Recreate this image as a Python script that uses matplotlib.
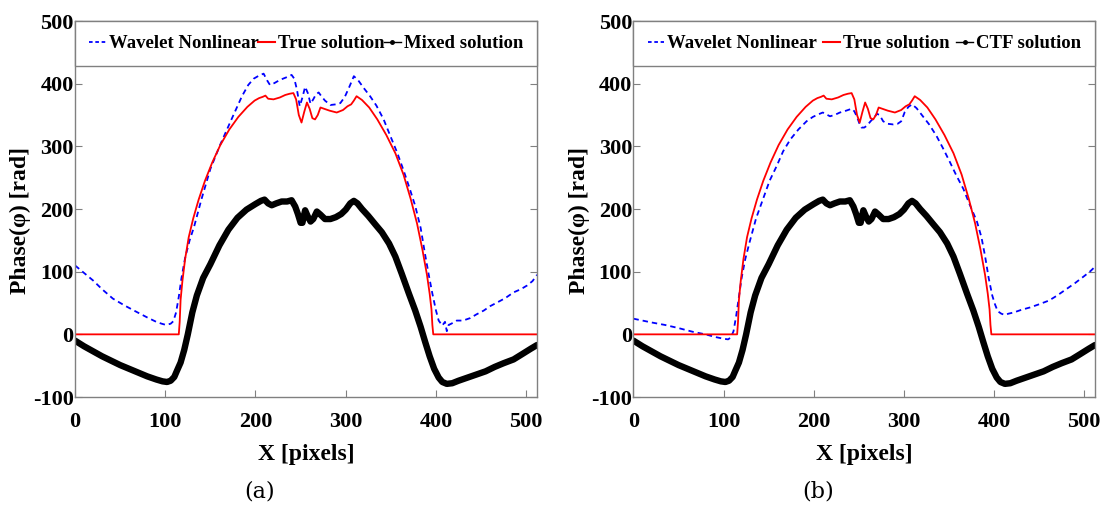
import matplotlib
matplotlib.use("Agg")
import matplotlib.pyplot as plt
from matplotlib.lines import Line2D

# ---------------- data ----------------
true_x = [0, 115, 116, 117, 119, 122, 126, 131, 137, 144, 152, 161, 171, 181, 191, 199,
          204, 208, 211, 214, 220, 227, 233, 238, 242, 245, 248, 251, 254, 257, 260, 263,
          266, 269, 272, 276, 282, 290, 297, 302, 306, 309, 312, 318, 326, 335, 345, 355,
          364, 372, 379, 385, 390, 393, 395, 396, 397, 512]
true_y = [0, 0, 20, 55, 85, 120, 155, 185, 215, 245, 274, 302, 327, 347, 363, 373,
          377, 379, 381, 376, 375, 378, 382, 384, 385, 375, 350, 338, 355, 370, 360, 345,
          343, 350, 362, 360, 357, 354, 358, 364, 367, 373, 380, 374, 362, 343, 318, 289,
          255, 216, 177, 135, 95, 65, 40, 15, 0, 0]

wavelet_a_x = [0, 10, 20, 30, 42, 55, 68, 80, 90, 96, 101, 106, 109, 112, 115, 118, 122,
               127, 132, 140, 150, 161, 174, 185, 192, 198, 204, 209, 213, 216, 221, 227,
               234, 240, 243, 246, 249, 252, 255, 258, 261, 264, 267, 270, 273, 277, 283,
               289, 294, 299, 304, 309, 314, 320, 327, 334, 342, 349, 357, 364, 371, 377,
               383, 388, 392, 396, 400, 403, 407, 410, 412, 414, 417, 423, 430, 438, 445,
               453, 460, 468, 477, 486, 494, 501, 507, 512]
wavelet_a_y = [110, 98, 86, 72, 57, 46, 36, 27, 20, 17, 15, 17, 21, 35, 60, 90, 122,
               150, 172, 215, 264, 303, 345, 380, 398, 408, 413, 416, 405, 398, 401, 406,
               410, 414, 408, 390, 364, 378, 395, 385, 368, 375, 383, 386, 380, 373, 366,
               367, 369, 379, 395, 412, 405, 393, 380, 365, 343, 318, 290, 262, 232, 205,
               170, 127, 95, 65, 38, 22, 14, 20, 5, 15, 17, 22, 22, 26, 32,
               38, 45, 51, 58, 67, 72, 78, 85, 95]

wavelet_b_x = [0, 10, 20, 35, 50, 66, 80, 90, 100, 105, 108, 111, 114, 117, 120, 124, 129,
               136, 144, 151, 159, 166, 174, 183, 192, 199, 205, 210, 214, 218, 223, 229,
               236, 242, 245, 248, 251, 253, 256, 259, 263, 267, 270, 273, 277, 282, 288,
               293, 297, 301, 305, 309, 314, 321, 328, 336, 343, 351, 358, 366, 373, 381,
               386, 390, 394, 398, 401, 404, 408, 412, 416, 422, 430, 440, 450, 461, 470,
               480, 490, 500, 507, 512]
wavelet_b_y = [25, 22, 19, 15, 10, 4, 0, -4, -7, -8, -5, 5, 30, 60, 90, 120, 148,
               185, 217, 245, 269, 292, 311, 327, 340, 347, 351, 354, 351, 348, 350, 354,
               357, 360, 356, 347, 335, 330, 330, 333, 340, 346, 352, 350, 340, 336, 335,
               336, 340, 355, 363, 367, 361, 348, 335, 317, 298, 275, 254, 232, 207, 180,
               155, 125, 90, 62, 48, 37, 33, 31, 33, 35, 39, 43, 48, 54, 62,
               72, 82, 93, 101, 108]

mixed_x = [0, 10, 20, 30, 40, 50, 60, 70, 80, 90, 97, 102, 106, 110, 113, 117, 121, 125,
           130, 135, 142, 150, 160, 170, 180, 190, 200, 206, 210, 214, 218, 223, 229, 235,
           240, 244, 247, 250, 252, 255, 258, 261, 264, 268, 272, 277, 283, 289, 295, 300,
           305, 309, 313, 318, 325, 333, 340, 348, 355, 362, 370, 377, 383, 388, 393, 398,
           403, 407, 412, 418, 425, 435, 445, 455, 465, 475, 486, 495, 505, 512]
mixed_y = [-10, -19, -27, -35, -42, -49, -55, -61, -67, -72, -75, -76, -74, -68, -58, -45,
           -25, 0, 35, 62, 90, 112, 142, 167, 186, 199, 208, 213, 215, 209, 206, 209, 212,
           212, 214, 204, 192, 178, 178, 198, 188, 180, 184, 196, 191, 184, 184, 187, 192,
           199, 209, 213, 209, 200, 189, 175, 163, 145, 124, 97, 65, 38, 12, -12, -35, -55,
           -69, -76, -79, -78, -74, -69, -64, -59, -52, -46, -40, -32, -23, -17]
ctf_x = mixed_x
ctf_y = mixed_y

x_ticks = [0, 100, 200, 300, 400, 500]
y_ticks = [-100, 0, 100, 200, 300, 400, 500]

panels = [
    dict(pos=[0.0677, 0.22, 0.417, 0.7387], wx=wavelet_a_x, wy=wavelet_a_y,
         bx=mixed_x, by=mixed_y, blabel="Mixed solution", caption="(a)"),
    dict(pos=[0.5717, 0.22, 0.4166, 0.7387], wx=wavelet_b_x, wy=wavelet_b_y,
         bx=ctf_x, by=ctf_y, blabel="CTF solution", caption="(b)"),
]

BOLD = dict(family="Liberation Serif", weight="bold")
GRAY = "#808080"

fig = plt.figure(figsize=(11.08, 5.09), dpi=100)

for p in panels:
    ax = fig.add_axes(p["pos"])
    ax.plot(p["wx"], p["wy"], color="#0000ff", lw=1.3, dashes=[3, 2.2])
    ax.plot(true_x, true_y, color="#ff0000", lw=1.3)
    ax.plot(p["bx"], p["by"], color="black", lw=4.6, solid_capstyle="round",
            solid_joinstyle="round")
    ax.set_xlim(0, 512)
    ax.set_ylim(-100, 500)
    ax.set_xticks(x_ticks)
    ax.set_yticks(y_ticks)
    ax.set_xticklabels([str(v) for v in x_ticks], fontsize=16, **BOLD)
    ax.set_yticklabels([str(v) for v in y_ticks], fontsize=16, **BOLD)
    ax.tick_params(direction="in", length=5, color=GRAY, width=0.8,
                   top=True, right=True)
    ax.tick_params(axis="x", pad=11)
    ax.tick_params(axis="y", pad=1)
    for s in ax.spines.values():
        s.set_color(GRAY)
        s.set_linewidth(1.0)
    ax.set_xlabel("X [pixels]", fontsize=17, **BOLD)
    ax.set_ylabel("Phase(φ) [rad]", fontsize=17, **BOLD)
    ax.yaxis.set_label_coords(-0.095, 0.47)
    ax.xaxis.set_label_coords(0.5, -0.125)
    ax.xaxis.label.set_va("top")

    handles = [
        Line2D([], [], color="#0000ff", lw=1.3, dashes=[2, 1.5]),
        Line2D([], [], color="#ff0000", lw=1.5),
        Line2D([], [], color="black", lw=1.0, marker=".", markersize=5),
    ]
    labels = ["Wavelet Nonlinear", "True solution", p["blabel"]]
    leg = ax.legend(handles, labels, loc="upper left", bbox_to_anchor=(0, 0, 1, 1),
                    mode="expand", ncol=3, borderaxespad=0, fancybox=False,
                    framealpha=1, edgecolor=GRAY, handlelength=0.9,
                    handletextpad=0.15, columnspacing=0.2, borderpad=0.75,
                    prop=dict(family="Liberation Serif", weight="bold", size=13.5))
    leg.get_frame().set_linewidth(1.0)

    cx = p["pos"][0] + p["pos"][2] * 0.4
    fig.text(cx, 0.012, p["caption"], ha="center", va="bottom",
             fontsize=16, family="DejaVu Serif")

fig.savefig("out.png", dpi=100)
